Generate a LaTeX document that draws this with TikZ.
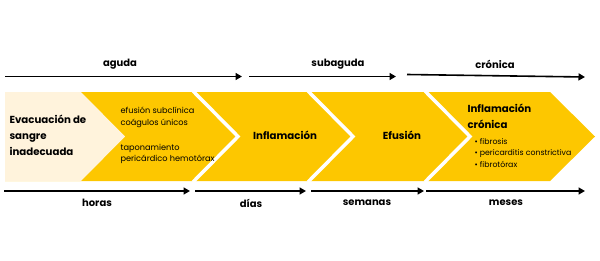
\documentclass[tikz,border=0pt]{standalone}
\usepackage{fontspec}
\setmainfont{Poppins}
\usetikzlibrary{arrows.meta,positioning}
\definecolor{amar}{HTML}{FDC700}
\definecolor{crema}{HTML}{FFF3DC}
\tikzset{tl/.style={line width=1.6pt,-{Triangle[length=6.5pt,width=7pt]}},
 tlbl/.style={font=\bfseries\fontsize{10}{11}\selectfont},
 fase/.style={font=\bfseries\fontsize{10.2}{16}\selectfont,align=left},
 nota/.style={font=\fontsize{8.2}{11.5}\selectfont,align=left,anchor=west}}
\begin{document}
\begin{tikzpicture}[x=1pt,y=-1pt]
\useasboundingbox (0,0) rectangle (600,260);
% bandas
\fill[amar](5,92)--(193,92)--(238,136.5)--(193,181)--(5,181)--cycle;
\foreach \l/\r in {193/308,308/425,425/550}{
\fill[amar](\l,92)--(\r,92)--(\r+45,136.5)--(\r,181)--(\l,181)--(\l+45,136.5)--cycle;
\draw[white,line width=3.5pt](\l,91)--(\l+45,136.5)--(\l,182);}
\fill[crema](5,92)--(81,92)--(125,136.5)--(81,181)--(5,181)--cycle;
% textos
\node[fase,anchor=west](evac)at(6,135){Evacuación de\\sangre\\inadecuada};
\node[nota](efus)at(117,117.5){efusión subclínica\\coágulos únicos};
\node[nota](tapo)at(117,154){taponamiento\\pericárdico hemotórax};
\node[fase](infl)at(285,135){Inflamación};
\node[fase](efu)at(402,135){Efusión};
\node[fase,anchor=north west](infc)at(464,100){Inflamación\\crónica};
\node[nota,anchor=north west,font=\fontsize{7.8}{11.5}\selectfont](lista)at(471,135){• fibrosis\\• pericarditis constrictiva\\• fibrotórax};
% arriba
\draw[tl](5,76.5)--(242,76.5);
\draw[tl](249,76.5)--(396,76.5);
\draw[tl](407,74.5)--(585,77);
\node[tlbl](agu)at(120,64){aguda};
\node[tlbl](sub)at(338,64){subaguda};
\node[tlbl](cro)at(495,64){crónica};
% abajo
\foreach \a/\b/\c/\t in {4/190/97/horas,195/306/251/días,311/424/367/semanas,426/585/506/meses}{
\draw[tl](\a,191)--(\b,191);
\node[tlbl](\t)at(\c,203){\t};}
\end{tikzpicture}
\end{document}
